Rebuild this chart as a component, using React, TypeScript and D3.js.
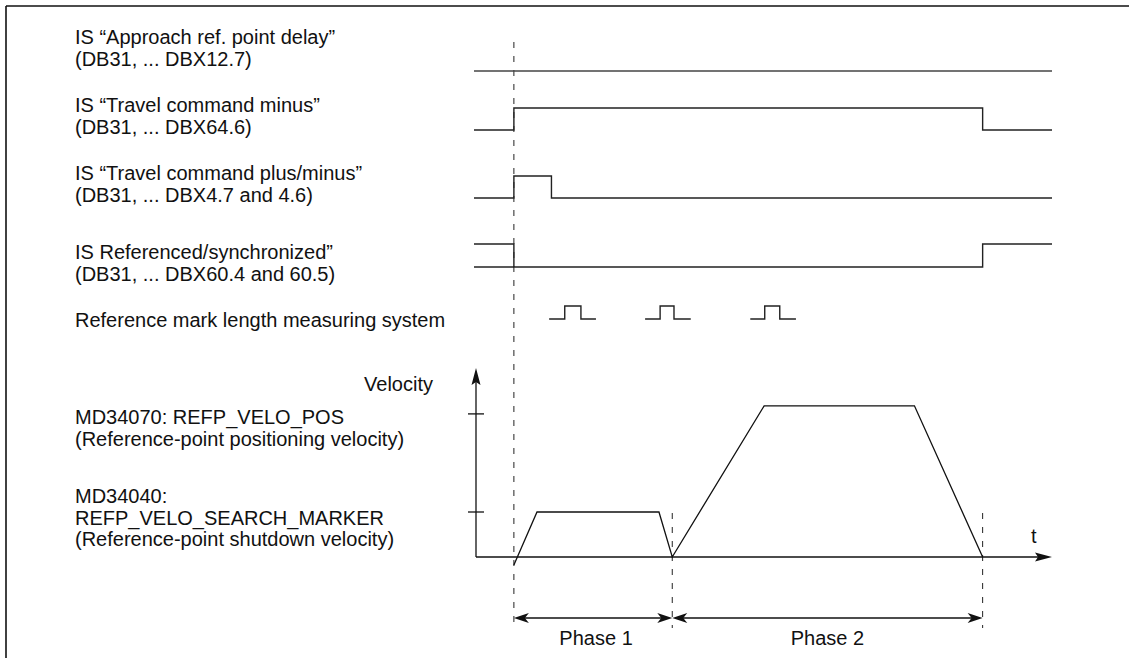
import React from 'react';
import * as d3 from 'd3';

// ---- data (time in arbitrary units 0..100, velocity in arbitrary units) ----
const timeDomain: [number, number] = [0, 100];
const tStart = 6.9;      // start of approach (dashed line)
const tPhase1End = 34.3; // end of phase 1
const tPhase2End = 88.0; // end of phase 2

const approachDelay: [number, number][] = [[0, 0], [100, 0]];
const travelMinus: [number, number][] = [[0, 0], [6.9, 1], [88.0, 0], [100, 0]];
const travelPlusMinus: [number, number][] = [[0, 0], [6.9, 1], [13.4, 0], [100, 0]];
const referenced: [number, number][] = [[0, 1], [6.9, 0], [88.0, 1], [100, 1]];
const referencedUndefined: [number, number] = [0, 6.9];

const refMarkPulses = [
  { start: 13.0, rise: 15.7, fall: 18.5, end: 21.1 },
  { start: 29.6, rise: 32.2, fall: 34.6, end: 37.5 },
  { start: 47.8, rise: 50.3, fall: 52.9, end: 55.7 },
];

const velocityProfile: [number, number][] = [
  [6.9, -0.18], [10.9, 1.0], [32.0, 1.0], [34.3, 0], [50.2, 3.36], [76.2, 3.36], [88.0, 0],
];
const velocityTicks = [1.0, 3.18];
const velocityDomain: [number, number] = [0, 4.2];

const signalLabels: string[][] = [
  ['IS “Approach ref. point delay”', '(DB31, ... DBX12.7)'],
  ['IS “Travel command minus”', '(DB31, ... DBX64.6)'],
  ['IS “Travel command plus/minus”', '(DB31, ... DBX4.7 and 4.6)'],
  ['IS Referenced/synchronized”', '(DB31, ... DBX60.4 and 60.5)'],
  ['Reference mark length measuring system'],
];
const velocityLabels: string[][] = [
  ['MD34070: REFP_VELO_POS', '(Reference-point positioning velocity)'],
  ['MD34040:', 'REFP_VELO_SEARCH_MARKER', '(Reference-point shutdown velocity)'],
];
const phaseLabels = ['Phase 1', 'Phase 2'];
const axisLabelY = 'Velocity';
const axisLabelX = 't';

// ---- layout ----
const W = 1129, H = 658;
const FONT = '"Liberation Sans", Arial, sans-serif';
const FS = 20;
const LH = 21.5;
const textX = 75;

export default function App() {
  const x = d3.scaleLinear().domain(timeDomain).range([474, 1052]);
  const vy = d3.scaleLinear().domain(velocityDomain).range([557, 368]);

  // rows: [lowY, highY]
  const rows: [number, number][] = [
    [71, 49],
    [130, 108],
    [198, 176],
    [267, 244],
    [319, 306],
  ];
  const labelBaselines = [44, 112, 180, 259, 327];
  const velLabelBaselines = [424, 503];

  const stepLine = (row: [number, number]) =>
    d3.line<[number, number]>()
      .x(d => x(d[0]))
      .y(d => (d[1] ? row[1] : row[0]))
      .curve(d3.curveStepAfter);

  const velLine = d3.line<[number, number]>().x(d => x(d[0])).y(d => vy(d[1]));

  const axisX = x(0) + 2;
  const axisY = vy(0);
  const arrowY = 618;

  const stroke = '#222';

  const barb = (tipX: number, y: number, dir: number) => {
    const L = 15, hw = 5, n = 11;
    return `M${tipX},${y} L${tipX - dir * L},${y - hw} L${tipX - dir * n},${y} L${tipX - dir * L},${y + hw} Z`;
  };

  return (
    <svg width={W} height={H} style={{ position: 'absolute', left: 0, top: 0, background: '#fff' }}
      fontFamily={FONT}>
      <rect x={0} y={0} width={W} height={H} fill="#fff" />
      {/* frame */}
      <line x1={6} y1={6} x2={W} y2={6} stroke="#111" strokeWidth={1.6} />
      <line x1={6} y1={6} x2={6} y2={H} stroke="#111" strokeWidth={1.6} />

      {/* labels */}
      {signalLabels.map((lines, i) => (
        <text key={'sl' + i} x={textX} y={labelBaselines[i]} fontSize={FS} fill="#111">
          {lines.map((l, j) => (
            <tspan key={j} x={textX} y={labelBaselines[i] + j * LH}>{l}</tspan>
          ))}
        </text>
      ))}
      {velocityLabels.map((lines, i) => (
        <text key={'vl' + i} x={textX} y={velLabelBaselines[i]} fontSize={FS} fill="#111">
          {lines.map((l, j) => (
            <tspan key={j} x={textX} y={velLabelBaselines[i] + j * LH}>{l}</tspan>
          ))}
        </text>
      ))}

      {/* dashed reference lines */}
      <line x1={x(tStart)} y1={42} x2={x(tStart)} y2={628} stroke="#222" strokeWidth={1} strokeDasharray="6,8" />
      <line x1={x(tPhase1End)} y1={513} x2={x(tPhase1End)} y2={628} stroke="#222" strokeWidth={1} strokeDasharray="6,8" />
      <line x1={x(tPhase2End)} y1={513} x2={x(tPhase2End)} y2={628} stroke="#222" strokeWidth={1} strokeDasharray="6,8" />

      {/* signals */}
      <path d={stepLine(rows[0])(approachDelay) || ''} fill="none" stroke="#444" strokeWidth={1.6} />
      <path d={stepLine(rows[1])(travelMinus) || ''} fill="none" stroke={stroke} strokeWidth={1.4} />
      <path d={stepLine(rows[2])(travelPlusMinus) || ''} fill="none" stroke={stroke} strokeWidth={1.4} />
      <path d={stepLine(rows[3])(referenced) || ''} fill="none" stroke={stroke} strokeWidth={1.4} />
      <line x1={x(referencedUndefined[0])} y1={rows[3][0]} x2={x(referencedUndefined[1])} y2={rows[3][0]}
        stroke={stroke} strokeWidth={1.4} />
      {refMarkPulses.map((p, i) => (
        <path key={'p' + i}
          d={stepLine(rows[4])([[p.start, 0], [p.rise, 1], [p.fall, 0], [p.end, 0]]) || ''}
          fill="none" stroke={stroke} strokeWidth={1.4} />
      ))}

      {/* velocity axes */}
      <line x1={axisX} y1={axisY} x2={axisX} y2={vy(velocityDomain[1]) + 6} stroke="#111" strokeWidth={1.3} />
      <path d={`M${axisX},${vy(velocityDomain[1])} L${axisX - 4.5},${vy(velocityDomain[1]) + 17} L${axisX},${vy(velocityDomain[1]) + 14} L${axisX + 4.5},${vy(velocityDomain[1]) + 17} Z`} fill="#111" />
      <line x1={axisX} y1={axisY} x2={x(100) - 6} y2={axisY} stroke="#111" strokeWidth={1.3} />
      <path d={`M${x(100)},${axisY} L${x(100) - 17},${axisY - 4.5} L${x(100) - 14},${axisY} L${x(100) - 17},${axisY + 4.5} Z`} fill="#111" />
      {velocityTicks.map((v, i) => (
        <line key={'t' + i} x1={axisX - 8} x2={axisX + 8} y1={vy(v)} y2={vy(v)} stroke="#111" strokeWidth={1.3} />
      ))}
      <text x={433} y={391} fontSize={FS} textAnchor="end" fill="#111">{axisLabelY}</text>
      <text x={1031} y={543} fontSize={FS} fill="#111">{axisLabelX}</text>

      {/* velocity profile */}
      <path d={velLine(velocityProfile) || ''} fill="none" stroke="#111" strokeWidth={1.3} />

      {/* phase arrows */}
      <line x1={x(tStart) + 4} x2={x(tPhase1End) - 4} y1={arrowY} y2={arrowY} stroke="#111" strokeWidth={1.3} />
      <line x1={x(tPhase1End) + 4} x2={x(tPhase2End) - 4} y1={arrowY} y2={arrowY} stroke="#111" strokeWidth={1.3} />
      <path d={barb(x(tStart), arrowY, -1)} fill="#111" />
      <path d={barb(x(tPhase1End), arrowY, 1)} fill="#111" />
      <path d={barb(x(tPhase1End), arrowY, -1)} fill="#111" />
      <path d={barb(x(tPhase2End), arrowY, 1)} fill="#111" />
      <text x={(x(tStart) + x(tPhase1End)) / 2 + 3} y={645} fontSize={FS} textAnchor="middle" fill="#111">{phaseLabels[0]}</text>
      <text x={(x(tPhase1End) + x(tPhase2End)) / 2} y={645} fontSize={FS} textAnchor="middle" fill="#111">{phaseLabels[1]}</text>
    </svg>
  );
}
